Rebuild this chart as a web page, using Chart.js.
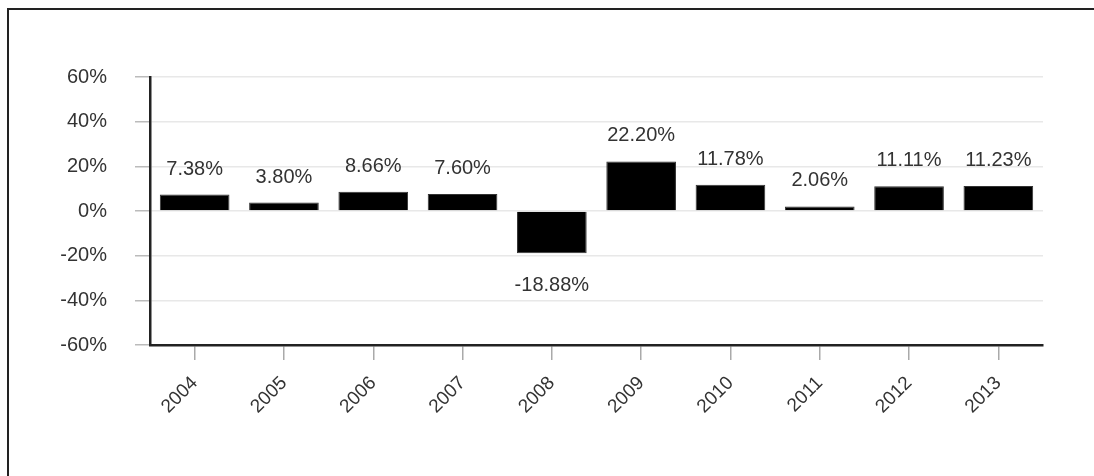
<!DOCTYPE html>
<html>
<head>
<meta charset="utf-8">
<script src="https://cdn.jsdelivr.net/npm/chart.js@4/dist/chart.umd.min.js"></script>
<style>
  html, body { margin: 0; padding: 0; background: #fff; overflow: hidden; }
  #wrap { position: relative; width: 1094px; height: 476px; }
  #frame { position: absolute; left: 7px; top: 8px; width: 1200px; height: 600px; border: 2px solid #222; }
  #returnsChart { position: absolute; left: 0; top: 0; }
</style>
</head>
<body>
<div id="wrap">
  <div id="frame"></div>
  <canvas id="returnsChart" width="1094" height="476"></canvas>
</div>
<script>
var years = ['2004', '2005', '2006', '2007', '2008', '2009', '2010', '2011', '2012', '2013'];
var annualReturns = [7.38, 3.80, 8.66, 7.60, -18.88, 22.20, 11.78, 2.06, 11.11, 11.23];
var yTicks = [-60, -40, -20, 0, 20, 40, 60];

Chart.defaults.font.family = "'Liberation Sans', Arial, sans-serif";
Chart.defaults.font.size = 20;
Chart.defaults.color = '#333';

// value labels above positive bars, below negative ones
var valueLabels = {
    id: 'valueLabels',
    afterDatasetsDraw: function(chart) {
        var ctx = chart.ctx;
        var meta = chart.getDatasetMeta(0);
        ctx.save();
        ctx.font = "20px 'Liberation Sans', Arial, sans-serif";
        ctx.fillStyle = '#333';
        ctx.textAlign = 'center';
        ctx.textBaseline = 'alphabetic';
        meta.data.forEach(function(bar, i) {
            var v = annualReturns[i];
            var text = v.toFixed(2) + '%';
            if (v >= 0) {
                ctx.fillText(text, bar.x, bar.y - 20);
            } else {
                ctx.fillText(text, bar.x, bar.y + 38);
            }
        });
        ctx.restore();
    }
};

var ctx = document.getElementById('returnsChart').getContext('2d');
var returnsChart = new Chart(ctx, {
    type: 'bar',
    data: {
        labels: years,
        datasets: [{
            data: annualReturns,
            backgroundColor: '#000',
            borderColor: '#333',
            borderWidth: 1,
            barPercentage: 0.78,
            categoryPercentage: 1
        }]
    },
    options: {
        responsive: false,
        animation: false,
        layout: { padding: { top: 77, right: 51, left: 0, bottom: 0 } },
        plugins: {
            legend: { display: false },
            tooltip: { enabled: false }
        },
        scales: {
            x: {
                offset: true,
                grid: { display: true, offset: false, drawOnChartArea: false, tickLength: 15, tickColor: '#aaa', lineWidth: 1.5 },
                border: { display: true, color: '#222', width: 2.5 },
                ticks: { maxRotation: 45, minRotation: 45, padding: 12, color: '#333', font: { size: 19 } },
                afterFit: function(scale) { scale.height = 131; }
            },
            y: {
                min: -60,
                max: 60,
                afterBuildTicks: function(scale) {
                    scale.ticks = yTicks.map(function(v) { return { value: v }; });
                },
                grid: { color: '#e8e8e8', lineWidth: 1.5, tickLength: 15, tickColor: '#bbb' },
                border: { display: true, color: '#222', width: 2.5 },
                ticks: {
                    padding: 28,
                    color: '#333',
                    callback: function(v) { return v + '%'; }
                },
                afterFit: function(scale) { scale.width = 150; }
            }
        }
    },
    plugins: [valueLabels]
});
</script>
</body>
</html>
